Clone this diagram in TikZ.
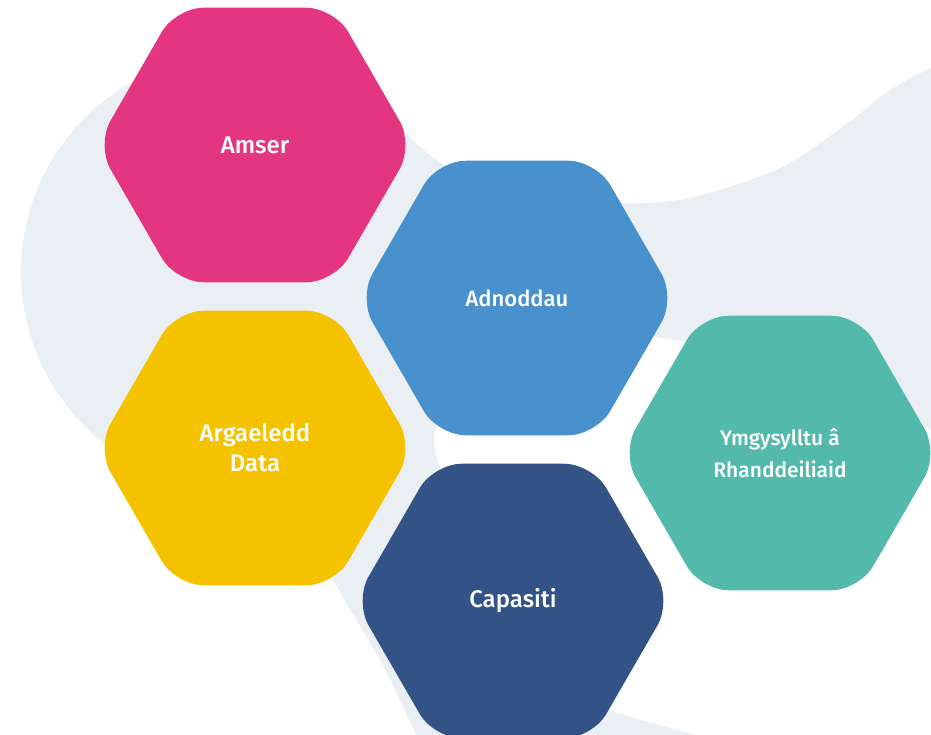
\documentclass[tikz,border=0pt]{standalone}
\usepackage{fontspec}
\setmainfont{Fira Sans Medium}
\usetikzlibrary{shapes.geometric}

\definecolor{amsercol}{HTML}{E43580}
\definecolor{adnoddaucol}{HTML}{4991CD}
\definecolor{argaeleddcol}{HTML}{F5C200}
\definecolor{capasiticol}{HTML}{335286}
\definecolor{ymgysylltucol}{HTML}{53BAAB}
\definecolor{bgcol}{HTML}{E9EFF3}

\begin{document}
\begin{tikzpicture}[x=1pt, y=-1pt,
    hexagon/.style={regular polygon, regular polygon sides=6, minimum size=317pt,
      inner sep=0pt, outer sep=0pt, rounded corners=28pt, text=white, align=center}]
      \clip (0, 0) rectangle (931, 735);

      % background shapes
      \fill [bgcol] (239, 272) circle [radius=218];
      \fill [bgcol] (960, 800) -- (430, 800)
        -- plot [smooth] coordinates {(424, 760) (416, 735) (380, 660) (334, 581) (310, 520)}
        -- (300, 300) -- (380, 112)
        -- plot [smooth] coordinates {(400, 128) (450, 168) (540, 195) (620, 203)
          (690, 198) (780, 168) (845, 125) (890, 90) (931, 68) (960, 58)}
        -- cycle;
      \fill [white] (960, 440) -- plot [smooth] coordinates {(931, 430) (850, 385)
          (760, 352) (687, 342) (645, 337) (560, 346) (480, 380) (436, 428) (442, 475)
          (480, 580) (540, 660) (606, 708) (695, 735) (760, 760)}
        -- (960, 800) -- cycle;

      % hexagons
      \node [hexagon, fill=amsercol, font=\fontsize{24}{28}\selectfont] (amser) at (255, 145) {Amser};
      \node [hexagon, fill=argaeleddcol, font=\fontsize{24}{30}\selectfont] (argaeledd) at (255, 448) {Argaeledd\\Data};
      \node [hexagon, fill=adnoddaucol, font=\fontsize{22}{26}\selectfont] (adnoddau) at (517, 298) {Adnoddau};
      \node [hexagon, fill=capasiticol, font=\fontsize{24}{28}\selectfont] (capasiti) at (513, 601) {Capasiti};
      \node [hexagon, fill=ymgysylltucol, font=\fontsize{21}{32}\selectfont] (ymgysylltu) at (780, 453) {Ymgysylltu â\\Rhanddeiliaid};
\end{tikzpicture}
\end{document}
